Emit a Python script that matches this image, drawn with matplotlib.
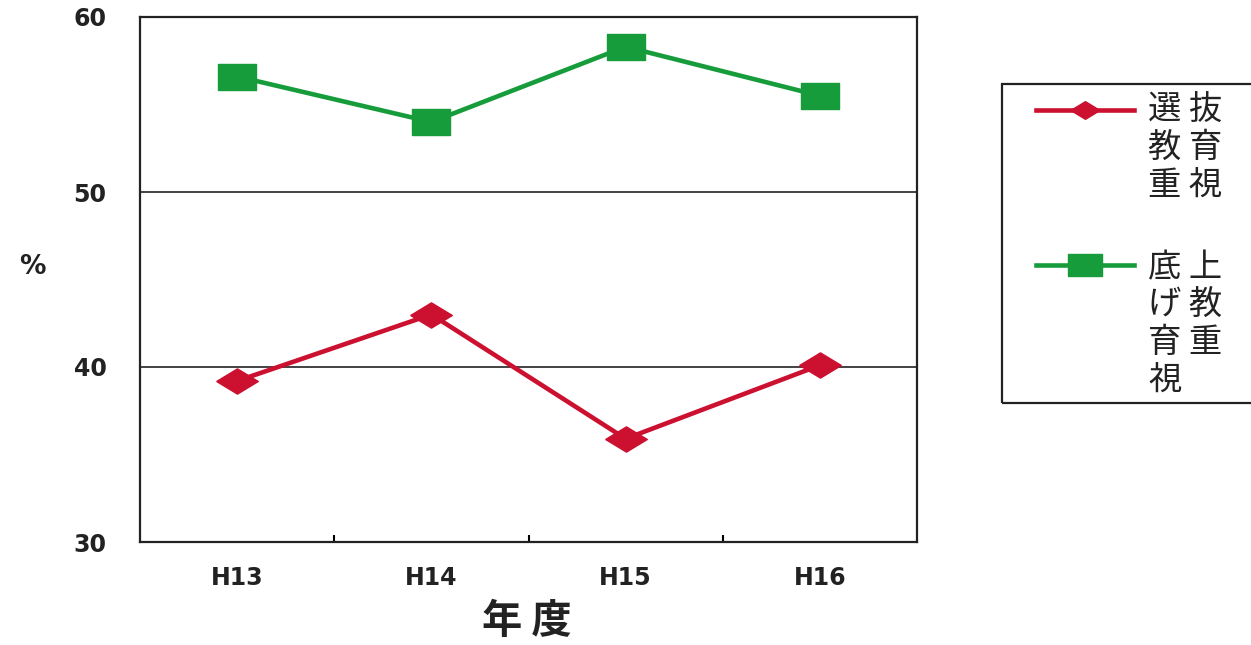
"""選抜教育重視 / 底上げ教育重視 の推移 (H13-H16)."""
import matplotlib
matplotlib.use("Agg")
import matplotlib.pyplot as plt
from matplotlib.lines import Line2D
from matplotlib.patches import Rectangle

YEARS = ["H13", "H14", "H15", "H16"]
SENBATSU = [39.2, 43.0, 35.9, 40.1]     # 選抜教育重視
SOKOAGE = [56.6, 54.0, 58.3, 55.5]      # 底上げ教育重視
LABELS = ["選 抜\n教 育\n重 視", "底 上\nげ 教\n育 重\n視"]

RED = "#cc1030"
GREEN = "#179c3c"
INK = "#222222"
JP = ["Noto Sans CJK JP", "DejaVu Sans"]

# flat diamond / flat rectangle markers like the original
DIAMOND = [(-1.65, 0), (0, 1), (1.65, 0), (0, -1), (-1.65, 0)]
RECT = [(-1.5, -1), (1.5, -1), (1.5, 1), (-1.5, 1), (-1.5, -1)]

W, H = 1251, 645
fig = plt.figure(figsize=(W / 100, H / 100), dpi=100)
ax = fig.add_axes([140 / W, 103 / H, 777 / W, 525 / H])

x = range(len(YEARS))
ax.plot(x, SENBATSU, color=RED, lw=3.3, marker=DIAMOND, ms=30, mec=RED, mfc=RED)
ax.plot(x, SOKOAGE, color=GREEN, lw=3.3, marker=RECT, ms=27.5, mec=GREEN, mfc=GREEN)

ax.set_xlim(-0.5, 3.5)
ax.set_ylim(30, 60)
ax.set_yticks([30, 40, 50, 60])
ax.set_xticks(list(x))
ax.set_xticklabels(YEARS)
ax.set_xticks([0.5, 1.5, 2.5], minor=True)
ax.tick_params(axis="x", which="major", length=0, pad=17, labelsize=17)
ax.tick_params(axis="x", which="minor", direction="in", length=5, width=1.5)
ax.tick_params(axis="y", length=0, pad=24, labelsize=17)
for lab in ax.get_xticklabels() + ax.get_yticklabels():
    lab.set_family("DejaVu Sans")
    lab.set_weight("bold")
    lab.set_color(INK)
ax.grid(axis="y", color=INK, lw=1.2)
for sp in ax.spines.values():
    sp.set_linewidth(1.6)
    sp.set_color(INK)

ax.set_ylabel("%", rotation=0, fontsize=19, family="DejaVu Sans",
              weight="bold", color=INK)
ax.yaxis.set_label_coords(-0.139, 0.5)
ax.set_xlabel("年 度", fontsize=29, family=JP, weight="bold", color=INK)
ax.xaxis.set_label_coords(0.498, -0.152)
ax.xaxis.label.set_va("center")

# legend box, cut off by the right edge as in the original
fig.add_artist(Rectangle((1002 / W, 1 - 403 / H), 300 / W, 319 / H,
                         transform=fig.transFigure, fill=False,
                         ec=INK, lw=1.6))
for (ly, ty), col, mk, ms, lab in [((110, 92), RED, DIAMOND, 21, LABELS[0]),
                                   ((265, 250), GREEN, RECT, 24, LABELS[1])]:
    fig.add_artist(Line2D([1036 / W, 1085 / W, 1134 / W], [1 - ly / H] * 3,
                          transform=fig.transFigure, color=col, lw=3.3,
                          marker=mk, ms=ms, mfc=col, mec=col, markevery=[1]))
    fig.text(1148 / W, 1 - ty / H, lab, fontsize=24, family=JP, va="top",
             ha="left", color=INK, linespacing=1.1)

fig.savefig("out.png", dpi=100)
